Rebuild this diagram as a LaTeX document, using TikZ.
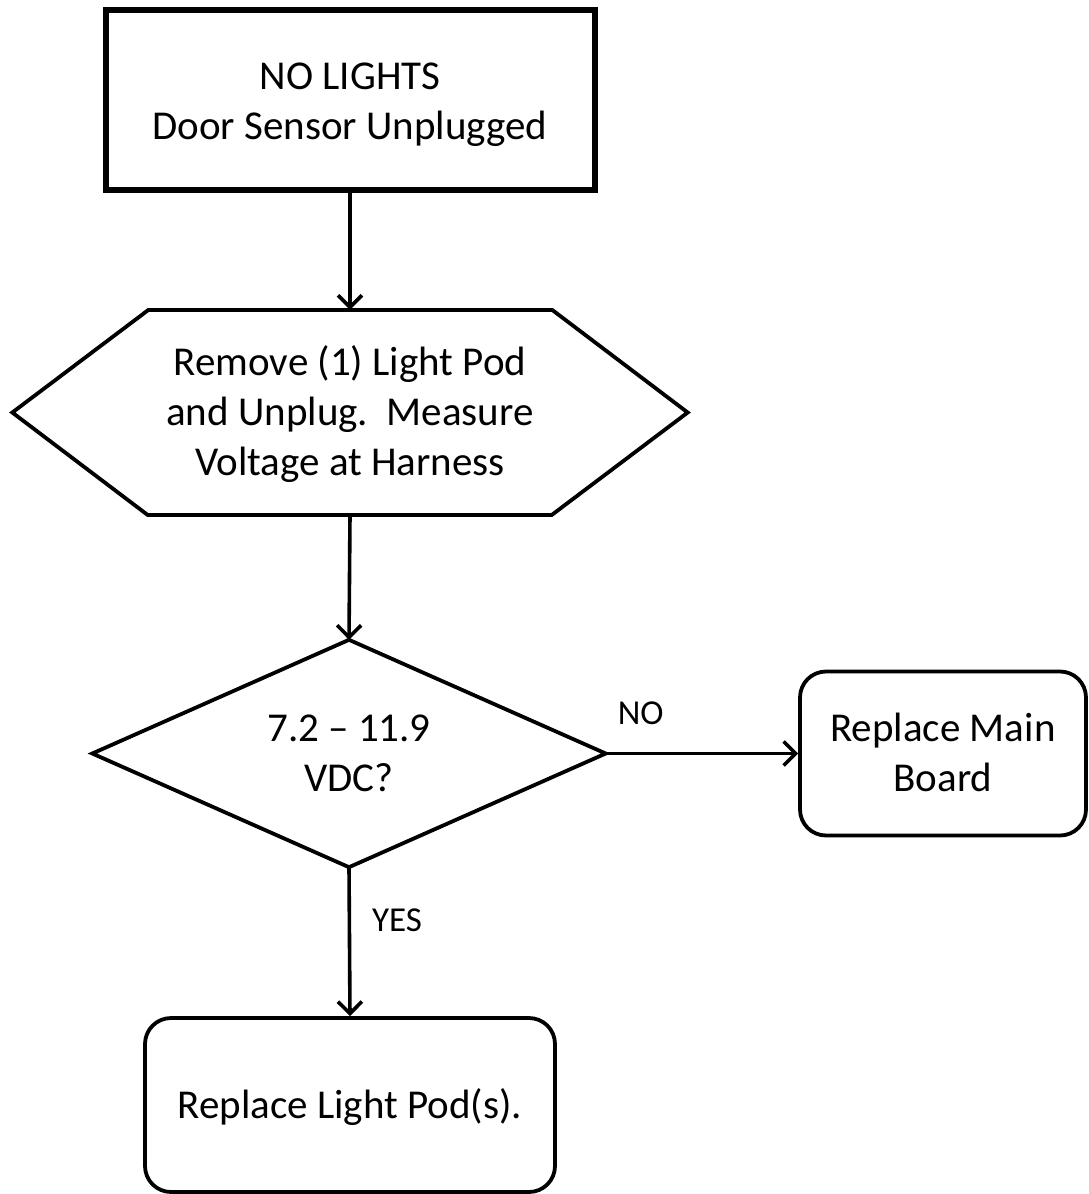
\documentclass[tikz,border=0pt]{standalone}
\usepackage{fontspec}
\setmainfont{Carlito}
\usetikzlibrary{arrows.meta,calc}
\newcommand{\lowered}[2]{\raisebox{-#1}[\height][\depth]{\begin{tabular}{@{}c@{}}#2\end{tabular}}}
\tikzset{
  every node/.style={font=\fontsize{41}{50}\selectfont, align=center, text=black},
  startbox/.style={draw, line width=6pt, minimum width=489pt, minimum height=180pt, inner sep=0pt},
  shapeline/.style={line width=3.8pt, line join=miter},
  textarea/.style={inner sep=0pt},
  endbox/.style={draw, rounded corners=26pt, line width=3.8pt, inner sep=0pt},
  flow/.style={line width=3.6pt, -{Straight Barb[length=12pt,width=24pt]}},
  lbl/.style={font=\fontsize{35}{42}\selectfont, inner sep=0pt}
}
\begin{document}
\begin{tikzpicture}[x=1pt,y=-1pt]
\useasboundingbox (0,0) rectangle (1089,1194);
\node[startbox] (start) at (350,100) {\lowered{4pt}{NO LIGHTS\\Door Sensor Unplugged}};
\node[textarea, minimum width=675pt, minimum height=205pt] (hex) at (350,412.5) {\lowered{3pt}{Remove (1) Light Pod\\and Unplug.\ \ Measure\\Voltage at Harness}};
\draw[shapeline] (hex.west) -- ++(136,-102.5) -- ++(404,0) -- (hex.east) -- ++(-136,102.5) -- ++(-404,0) -- cycle;
\node[textarea, minimum width=513pt, minimum height=227pt] (dec) at (349,753.5) {\lowered{3pt}{7.2 -- 11.9\\VDC?}};
\draw[shapeline] (dec.north) -- (dec.east) -- (dec.south) -- (dec.west) -- cycle;
\node[endbox, minimum width=286pt, minimum height=164pt] (main) at (943,753.5) {\lowered{3pt}{Replace Main\\Board}};
\node[endbox, minimum width=410pt, minimum height=174pt] (pod) at (350,1105) {\lowered{3pt}{Replace Light Pod(s).}};
\draw[flow] (start.south) -- (hex.north);
\draw[flow] (hex.south) -- (dec.north);
\draw[flow] (dec.east) -- (main.west);
\draw[flow] (dec.south) -- (pod.north);
\node[lbl] (no) at ($(dec.east)+(35,-40)$) {NO};
\node[lbl] (yes) at ($(dec.south)+(48,53)$) {YES};
\end{tikzpicture}
\end{document}
